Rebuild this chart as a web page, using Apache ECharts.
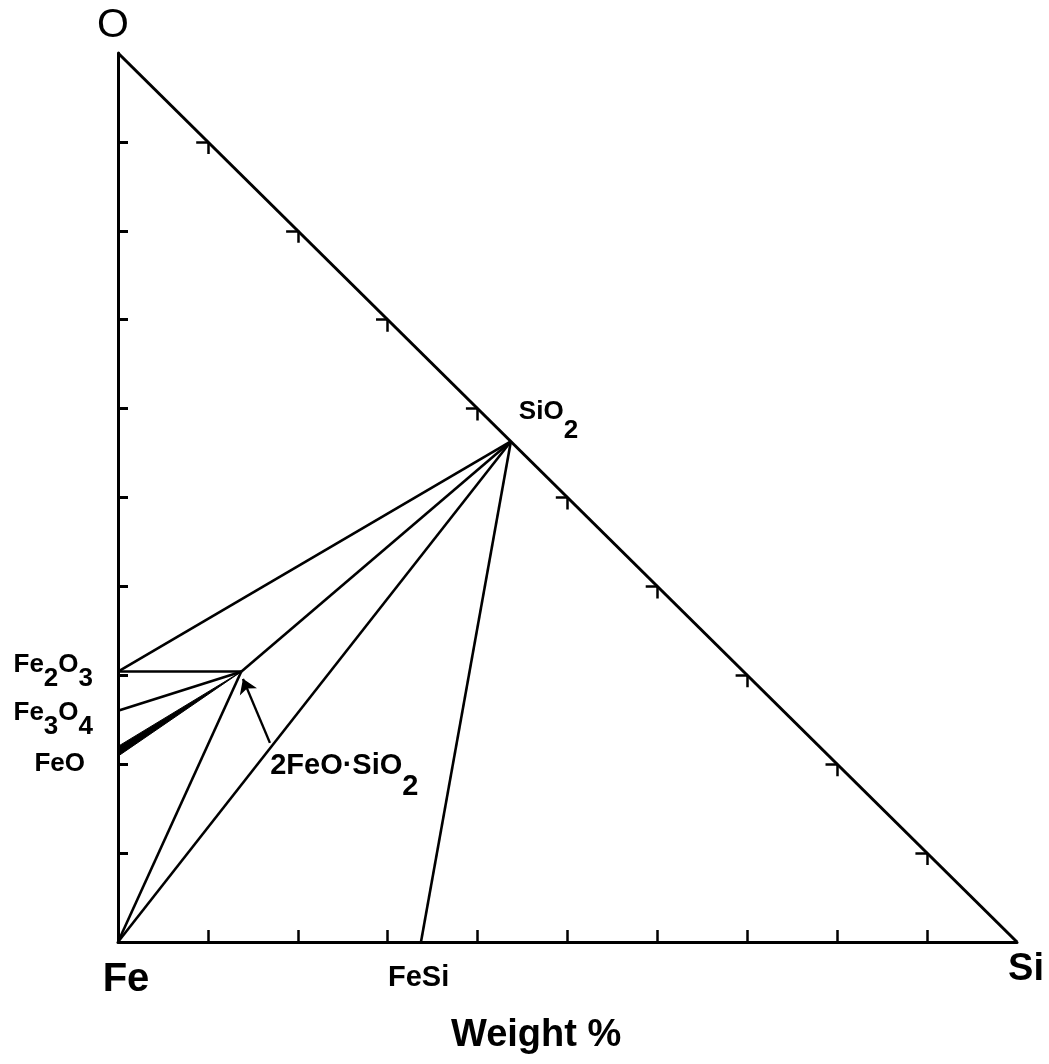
<!DOCTYPE html>
<html>
<head>
<meta charset="utf-8">
<title>Fe–Si–O ternary (weight %)</title>
<script src="https://cdn.jsdelivr.net/npm/echarts@6/dist/echarts.min.js"></script>
<style>
  html, body { margin: 0; padding: 0; background: #fff; }
  #chart { width: 1049px; height: 1064px; }
</style>
</head>
<body>
<div id="chart"></div>
<script>
// Phases of the Fe–Si–O system, plotted as wt% Si (x) against wt% O (y)
const phaseNames = ['Fe', 'Si', 'O', 'SiO2', 'FeSi', 'Fe2O3', 'Fe3O4', 'FeO', '2FeO·SiO2'];
const phaseSi    = [0,    100,  0,   43.7,   33.7,   0,       0,       0,     13.7];
const phaseO     = [0,    0,    100, 56.3,   0,      30.4,    26.0,    21.5,  30.4];

// Tie lines between coexisting phases
const tieFrom = ['Fe2O3', 'Fe2O3',     'Fe3O4',     'Fe',        'Fe',   'FeSi', '2FeO·SiO2'];
const tieTo   = ['SiO2',  '2FeO·SiO2', '2FeO·SiO2', '2FeO·SiO2', 'SiO2', 'SiO2', 'SiO2'];

// Wüstite (FeO) range on the Fe–O side, joined to fayalite
const wustiteO = [20.9, 22.0];

// Tick values along the three sides (wt %)
const tickValues = [10, 20, 30, 40, 50, 60, 70, 80, 90];

// Pointer from the fayalite label to its composition point
const arrowTail = [16.9, 22.4];
const arrowHead = [13.9, 29.6];

const FONT = '"Liberation Sans", Arial, Helvetica, sans-serif';

function pt(name) {
  const i = phaseNames.indexOf(name);
  return [phaseSi[i], phaseO[i]];
}

const tieData = tieFrom.map((a, i) => ({ coords: [pt(a), pt(tieTo[i])] }));

// Short inward ticks on the Si–O side: one stub left, one stub down
const hypTickData = [];
tickValues.forEach(t => {
  const p = [t, 100 - t];
  hypTickData.push({ coords: [p, [t - 1.3, 100 - t]] });
  hypTickData.push({ coords: [p, [t, 100 - t - 1.35]] });
});

const base = { fontFamily: FONT, fontWeight: 'bold', color: '#000', opacity: 1, verticalAlign: 'top' };
function rich(size, drop) {
  return {
    b: Object.assign({}, base, { fontSize: size, lineHeight: size }),
    s: Object.assign({}, base, { fontSize: size, lineHeight: size, padding: [drop, 0, 0, 0] })
  };
}

// Label placement for each phase point
const labelSpec = {
  'Fe':        { text: '{b|Fe}', size: 40, pos: [8, 18], align: 'center' },
  'Si':        { text: '{b|Si}', size: 38, pos: [9, 9], align: 'center' },
  'O':         { text: 'O', size: 41, pos: [-5, -48], align: 'center', normal: true },
  'SiO2':      { text: '{b|SiO}{s|2}', size: 26, drop: 19, pos: [8, -43], align: 'left' },
  'FeSi':      { text: '{b|FeSi}', size: 29, pos: [-33, 21], align: 'left' },
  'Fe2O3':     { text: '{b|Fe}{s|2}{b|O}{s|3}', size: 26, drop: 14, pos: [-25, -20], align: 'right' },
  'Fe3O4':     { text: '{b|Fe}{s|3}{b|O}{s|4}', size: 26, drop: 14, pos: [-25, -11], align: 'right' },
  'FeO':       { text: '{b|FeO}', size: 26, pos: [-33, 0], align: 'right' },
  '2FeO·SiO2': { text: '{b|2FeO·SiO}{s|2}', size: 29, drop: 21, pos: [29, 80], align: 'left' }
};

const labelData = phaseNames.map((n, i) => {
  const spec = labelSpec[n];
  const label = {
    show: true,
    position: spec.pos,
    align: spec.align,
    verticalAlign: 'top',
    color: '#000',
    opacity: 1,
    formatter: spec.text
  };
  if (spec.normal) {
    Object.assign(label, { fontFamily: FONT, fontSize: spec.size, fontWeight: 'normal' });
  } else {
    label.rich = rich(spec.size, spec.drop || 0);
  }
  return { name: n, value: [phaseSi[i], phaseO[i]], label };
});

const chart = echarts.init(document.getElementById('chart'), null, { renderer: 'canvas' });

chart.setOption({
  animation: false,
  backgroundColor: '#fff',
  title: {
    text: 'Weight %',
    left: 451,
    top: 1017,
    padding: 0,
    textStyle: { fontFamily: FONT, fontSize: 38, fontWeight: 'bold', color: '#000' }
  },
  grid: { left: 118, top: 53, width: 899, height: 889, containLabel: false },
  xAxis: {
    type: 'value', min: 0, max: 100, interval: 10,
    axisLine: { show: true, onZero: false, lineStyle: { color: '#000', width: 3 } },
    axisTick: { show: true, inside: true, length: 12, customValues: tickValues, lineStyle: { color: '#000', width: 2.5 } },
    axisLabel: { show: false },
    splitLine: { show: false }
  },
  yAxis: {
    type: 'value', min: 0, max: 100, interval: 10,
    axisLine: { show: true, onZero: false, lineStyle: { color: '#000', width: 3 } },
    axisTick: { show: true, inside: true, length: 10, customValues: tickValues, lineStyle: { color: '#000', width: 3 } },
    axisLabel: { show: false },
    splitLine: { show: false }
  },
  series: [
    {
      // Si–O side of the triangle
      type: 'line',
      data: [pt('O'), pt('Si')],
      symbol: 'none',
      lineStyle: { color: '#000', width: 3 },
      z: 3
    },
    {
      type: 'lines',
      coordinateSystem: 'cartesian2d',
      data: hypTickData,
      lineStyle: { color: '#000', width: 2.5, opacity: 1 },
      z: 3
    },
    {
      type: 'lines',
      coordinateSystem: 'cartesian2d',
      data: tieData,
      lineStyle: { color: '#000', width: 2.6, opacity: 1 },
      z: 2
    },
    {
      // FeO (wüstite) field tapering to fayalite
      type: 'custom',
      coordinateSystem: 'cartesian2d',
      data: [[0, wustiteO[0], wustiteO[1], pt('2FeO·SiO2')[0], pt('2FeO·SiO2')[1]]],
      renderItem: function (params, api) {
        const a = api.coord([api.value(0), api.value(1)]);
        const b = api.coord([api.value(0), api.value(2)]);
        const c = api.coord([api.value(3), api.value(4)]);
        return {
          type: 'polygon',
          shape: { points: [a, b, c] },
          style: { fill: '#000', stroke: '#000', lineWidth: 1 }
        };
      },
      z: 2
    },
    {
      type: 'lines',
      coordinateSystem: 'cartesian2d',
      data: [{ coords: [arrowTail, arrowHead] }],
      symbol: ['none', 'arrow'],
      symbolSize: [8, 14],
      lineStyle: { color: '#000', width: 2.4, opacity: 1 },
      z: 4
    },
    {
      type: 'scatter',
      data: labelData,
      symbolSize: 0,
      itemStyle: { color: '#000', opacity: 1 },
      silent: true,
      z: 5
    }
  ]
});
</script>
</body>
</html>
